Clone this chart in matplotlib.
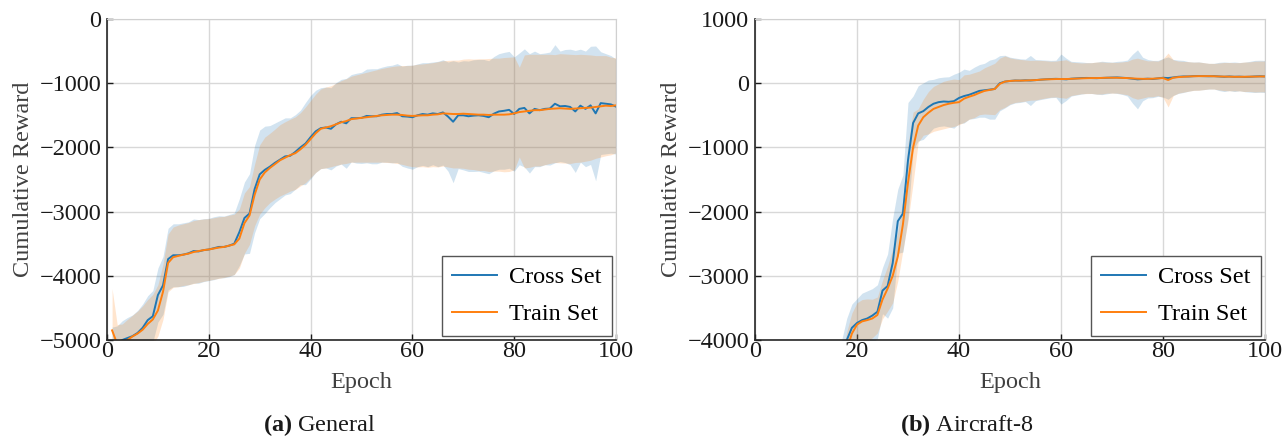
import numpy as np
import matplotlib
matplotlib.use("Agg")
import matplotlib.pyplot as plt

# ---- (a) General : epochs 1..100 ----
epochs_gen = list(range(1, 101))

cross_gen_mean = [
    -5150, -5080, -5000, -4970, -4940, -4890, -4810, -4690, -4630, -4300,
    -4150, -3740, -3680, -3680, -3670, -3650, -3615, -3620, -3600, -3590,
    -3570, -3550, -3550, -3530, -3500, -3320, -3100, -3030, -2650, -2420,
    -2350, -2300, -2240, -2190, -2140, -2130, -2070, -2000, -1940, -1840,
    -1750, -1700, -1690, -1710, -1640, -1600, -1625, -1545, -1545, -1540,
    -1510, -1515, -1515, -1490, -1480, -1480, -1465, -1515, -1520, -1530,
    -1500, -1480, -1490, -1470, -1480, -1455, -1520, -1600, -1500, -1500,
    -1515, -1505, -1500, -1510, -1530, -1475, -1440, -1430, -1415, -1480,
    -1400, -1385, -1470, -1400, -1420, -1400, -1395, -1320, -1360, -1355,
    -1370, -1440, -1350, -1400, -1345, -1470, -1310, -1320, -1330, -1365,
]
cross_gen_std = [
    350, 300, 300, 320, 330, 350, 370, 380, 400, 420,
    450, 480, 490, 490, 495, 490, 500, 495, 490, 485,
    490, 485, 480, 485, 480, 520, 560, 620, 680, 690,
    680, 640, 620, 610, 600, 590, 580, 580, 640, 650,
    640, 630, 630, 640, 650, 660, 700, 680, 700, 710,
    730, 740, 740, 740, 750, 760, 770, 780, 800, 810,
    800, 800, 810, 800, 820, 820, 850, 950, 830, 850,
    860, 870, 870, 880, 880, 890, 900, 910, 910, 890,
    870, 920, 930, 900, 880, 870, 880, 920, 860, 880,
    900, 950, 880, 900, 920, 1050, 800, 780, 760, 740,
]
train_gen_mean = [
    -4850, -5060, -5050, -5000, -4945, -4900, -4840, -4750, -4680, -4540,
    -4250, -3800, -3710, -3690, -3670, -3655, -3630, -3615, -3600, -3590,
    -3575, -3560, -3550, -3530, -3510, -3420, -3180, -3060, -2740, -2500,
    -2390, -2320, -2260, -2200, -2160, -2120, -2090, -2030, -1960, -1870,
    -1780, -1710, -1690, -1670, -1640, -1610, -1590, -1560, -1550, -1540,
    -1530, -1520, -1510, -1500, -1495, -1490, -1490, -1495, -1505, -1510,
    -1505, -1500, -1500, -1490, -1485, -1470, -1475, -1480, -1480, -1475,
    -1480, -1485, -1490, -1490, -1495, -1490, -1490, -1490, -1485, -1470,
    -1450, -1440, -1430, -1420, -1420, -1410, -1400, -1395, -1390, -1395,
    -1400, -1395, -1390, -1385, -1380, -1370, -1360, -1350, -1355, -1345,
]
train_gen_std = [
    650, 300, 300, 320, 330, 350, 370, 380, 390, 400,
    430, 450, 470, 480, 480, 485, 490, 490, 485, 480,
    480, 480, 475, 475, 470, 460, 470, 450, 480, 540,
    550, 540, 545, 555, 560, 560, 565, 570, 590, 600,
    610, 620, 630, 630, 640, 650, 660, 670, 680, 690,
    700, 710, 720, 730, 740, 750, 760, 770, 780, 790,
    800, 800, 810, 810, 820, 820, 830, 840, 840, 850,
    860, 860, 870, 870, 880, 880, 880, 890, 890, 880,
    700, 880, 880, 870, 870, 860, 850, 840, 850, 850,
    850, 840, 840, 830, 820, 800, 790, 780, 760, 740,
]

# ---- (b) Aircraft-8 : epochs 17..100 ----
epochs_air = list(range(17, 101))

cross_air_mean = [
    -4300, -4000, -3810, -3735, -3690, -3665, -3620, -3560, -3230, -3160,
    -2800, -2150, -2030, -1200, -620, -470, -435, -370, -320, -295,
    -285, -290, -280, -230, -200, -180, -150, -120, -110, -100,
    -90, 0, 25, 35, 42, 40, 45, 42, 48, 55,
    60, 65, 68, 65, 60, 70, 75, 80, 82, 80,
    78, 82, 85, 88, 90, 85, 80, 70, 60, 65,
    70, 65, 75, 85, 80, 90, 100, 105, 105, 110,
    112, 110, 108, 110, 105, 100, 105, 100, 102, 98,
    100, 105, 108, 105,
]
cross_air_std = [
    300, 340, 370, 380, 420, 430, 420, 420, 360, 500,
    700, 500, 600, 900, 420, 430, 440, 420, 380, 380,
    380, 390, 420, 400, 420, 380, 400, 410, 420, 460,
    470, 430, 410, 370, 350, 340, 330, 390, 320, 310,
    300, 290, 290, 390, 330, 270, 260, 250, 240, 240,
    250, 260, 250, 240, 250, 260, 280, 380, 460, 340,
    300, 290, 280, 300, 330, 280, 260, 250, 230, 220,
    220, 210, 200, 200, 220, 230, 220, 230, 220, 230,
    240, 250, 250, 250,
]
train_air_mean = [
    -4500, -4150, -3900, -3760, -3710, -3690, -3665, -3610, -3370, -3200,
    -3000, -2700, -2200, -1550, -1000, -660, -530, -460, -400, -370,
    -340, -320, -305, -295, -240, -210, -185, -150, -120, -105,
    -90, -10, 25, 35, 40, 40, 42, 45, 48, 55,
    60, 62, 65, 65, 65, 68, 72, 75, 78, 80,
    80, 82, 85, 85, 85, 82, 80, 75, 70, 68,
    68, 70, 75, 80, 50, 85, 95, 100, 105, 108,
    110, 110, 110, 108, 105, 103, 102, 100, 100, 100,
    102, 103, 105, 105,
]
train_air_std = [
    250, 280, 320, 340, 340, 330, 300, 280, 300, 350,
    420, 380, 400, 600, 550, 260, 280, 330, 350, 360,
    370, 370, 370, 350, 370, 350, 350, 340, 360, 380,
    400, 400, 400, 360, 340, 330, 320, 310, 310, 300,
    290, 280, 280, 290, 300, 260, 250, 240, 240, 240,
    250, 250, 240, 240, 240, 250, 260, 300, 320, 300,
    280, 280, 270, 300, 420, 280, 250, 240, 230, 220,
    220, 210, 200, 200, 210, 220, 220, 220, 220, 230,
    230, 240, 240, 240,
]

BLUE = "#1f77b4"
ORANGE = "#ff7f0e"
SERIF = ["Liberation Serif", "DejaVu Serif"]
plt.rcParams["font.family"] = SERIF
plt.rcParams["axes.unicode_minus"] = True
plt.rcParams["mathtext.fontset"] = "custom"
plt.rcParams["mathtext.rm"] = "Liberation Serif"
plt.rcParams["mathtext.bf"] = "Liberation Serif:bold"


def painel(ax, x, cm, cs, tm, ts, ylim, yticks):
    x = np.array(x)
    cm, cs = np.array(cm), np.array(cs)
    tm, ts = np.array(tm), np.array(ts)

    ax.fill_between(x, cm - cs, cm + cs, color=BLUE, alpha=0.2, lw=0)
    ax.fill_between(x, tm - ts, tm + ts, color=ORANGE, alpha=0.2, lw=0)
    ax.plot(x, cm, color=BLUE, lw=1.4, label="Cross Set")
    ax.plot(x, tm, color=ORANGE, lw=1.4, label="Train Set")

    ax.set_xlim(0, 100)
    ax.set_ylim(*ylim)
    ax.set_xticks([0, 20, 40, 60, 80, 100])
    ax.set_yticks(yticks)
    ax.grid(True, color="#d8d8d8", lw=1)
    ax.set_axisbelow(True)

    for s in ["top", "right"]:
        ax.spines[s].set_color("#d0d0d0")
    for s in ["left", "bottom"]:
        ax.spines[s].set_color("#262626")
        ax.spines[s].set_linewidth(1.2)
    ax.tick_params(direction="in", length=4, width=1, labelsize=17.5,
                   top=False, right=False, pad=4, colors="#1a1a1a")
    ax.tick_params(axis="x", pad=1)

    ax.set_xlabel("Epoch", fontsize=17.5, color="#404040")
    ax.set_ylabel("Cumulative Reward", fontsize=17.5, color="#404040")
    ax.xaxis.set_label_coords(0.5, -0.1)
    ax.yaxis.set_label_coords(-0.143, 0.5)

    leg = ax.legend(loc="lower right", fontsize=17.5, frameon=True,
                    fancybox=False, framealpha=1, edgecolor="#555555",
                    handlelength=1.85, borderpad=0.42, labelspacing=0.62,
                    handletextpad=0.5, borderaxespad=0.18)
    leg.get_frame().set_linewidth(1.0)


fig = plt.figure(figsize=(12.85, 4.37), dpi=100)
ax1 = fig.add_axes([107 / 1285, 97 / 437, 509 / 1285, 321 / 437])
ax2 = fig.add_axes([755 / 1285, 97 / 437, 510 / 1285, 321 / 437])

painel(ax1, epochs_gen, cross_gen_mean, cross_gen_std,
       train_gen_mean, train_gen_std, (-5000, 0),
       [-5000, -4000, -3000, -2000, -1000, 0])
painel(ax2, epochs_air, cross_air_mean, cross_air_std,
       train_air_mean, train_air_std, (-4000, 1000),
       [-4000, -3000, -2000, -1000, 0, 1000])

fig.text(319 / 1285, 1 - 425 / 437, r"$\mathbf{(a)}$ General", ha="center",
         va="center", fontsize=17.5, color="#1a1a1a")
fig.text(967 / 1285, 1 - 425 / 437, r"$\mathbf{(b)}$ Aircraft-8", ha="center",
         va="center", fontsize=17.5, color="#1a1a1a")

fig.savefig("out.png", dpi=100)
